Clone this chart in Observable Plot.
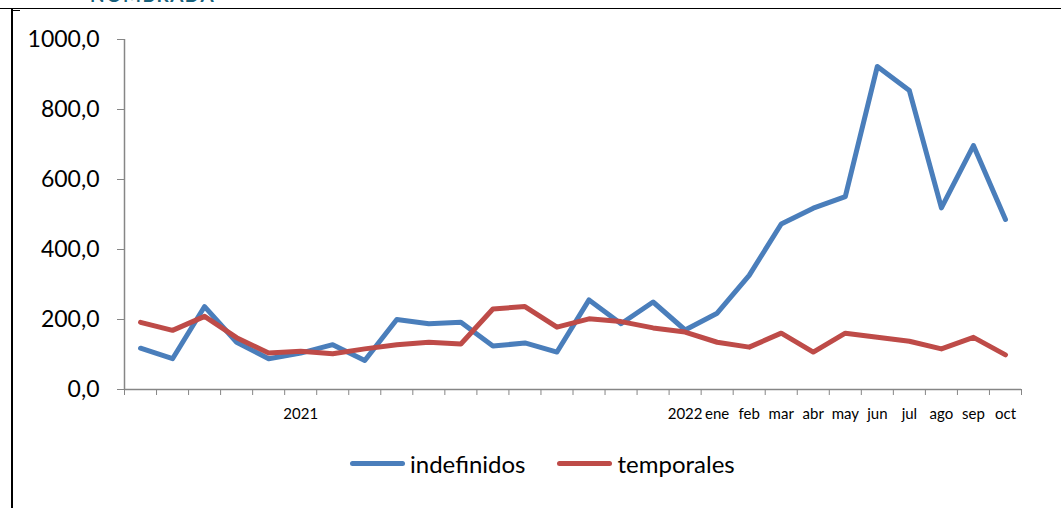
<!DOCTYPE html>
<html>
<head>
<meta charset="utf-8">
<script src="https://cdn.jsdelivr.net/npm/d3@7"></script>
<script src="https://cdn.jsdelivr.net/npm/@observablehq/plot@0.6"></script>
<style>
  html, body { margin: 0; padding: 0; background: #fff; }
  #wrap { position: relative; width: 1061px; height: 508px; overflow: hidden; font-family: Lato, "Open Sans", sans-serif; }
  #topline { position: absolute; left: 0; top: 8px; width: 1061px; height: 0; border-top: 1.5px solid #000; }
  #leftline { position: absolute; left: 11px; top: 8px; width: 0; height: 500px; border-left: 2.5px solid #000; }
  #cap { position: absolute; left: 11px; top: 10px; width: 9px; height: 0; border-top: 1.5px solid #000; }
  #title { position: absolute; left: 90px; top: -17px; font-size: 19px; font-weight: 700; color: #17607a; letter-spacing: 1.5px; white-space: nowrap; }
  #chart { position: absolute; left: 0; top: 0; }
  #legend { position: absolute; left: 350px; top: 449px; display: flex; align-items: center; font-size: 24px; color: #000; }
  .item { display: flex; align-items: center; }
  .sw { width: 55px; height: 5px; border-radius: 3px; margin-right: 5px; }
</style>
</head>
<body>
<div id="wrap">
  <div id="title">NOMBRADA</div>
  <div id="topline"></div>
  <div id="leftline"></div>
  <div id="cap"></div>
  <div id="chart"></div>
  <div id="legend"></div>
</div>
<script>
// x category labels (28 periods)
const xLabels = ["", "", "", "", "", "2021", "", "", "", "", "", "", "", "", "", "", "", "2022",
  "ene", "feb", "mar", "abr", "may", "jun", "jul", "ago", "sep", "oct"];
// series values
const indefinidos = [118, 88, 237, 135, 88, 104, 128, 83, 200, 188, 192, 124, 133, 107, 256, 188, 250, 170,
  218, 326, 473, 518, 551, 923, 854, 519, 697, 486];
const temporales = [192, 169, 209, 148, 104, 109, 102, 116, 128, 135, 130, 230, 237, 178, 202, 194, 176, 164,
  135, 121, 161, 107, 161, 149, 138, 116, 149, 99];
const seriesNames = ["indefinidos", "temporales"];
const seriesColors = ["#4a7ebb", "#be4b48"];
const yTicks = [0, 200, 400, 600, 800, 1000];

const n = xLabels.length;
const idx = d3.range(n);
const boundaries = d3.range(n + 1).map(i => i - 0.5);
const rows = [];
[indefinidos, temporales].forEach((vals, s) => {
  vals.forEach((v, i) => rows.push({ i, v, s: seriesNames[s] }));
});
const fmt = d => d3.format(".1f")(d).replace(".", ",");
const axisGray = "#868686";

const chart = Plot.plot({
  width: 1061,
  height: 430,
  marginLeft: 124,
  marginRight: 40,
  marginTop: 39,
  marginBottom: 41,
  style: { fontFamily: "Lato, 'Open Sans', sans-serif", color: "#000", background: "transparent" },
  x: { type: "linear", domain: [-0.5, n - 0.5] },
  y: { domain: [0, 1000] },
  color: { domain: seriesNames, range: seriesColors },
  marks: [
    Plot.axisY({ ticks: yTicks, tickSize: 7, tickPadding: 18, tickFormat: fmt, fontSize: 23, stroke: axisGray, fill: "#000", label: null }),
    Plot.axisX({ ticks: boundaries, tickSize: 6, tickFormat: () => "", stroke: axisGray, label: null }),
    Plot.axisX({ ticks: idx, tickSize: 0, tickPadding: 19, tickFormat: i => xLabels[i], fontSize: 15, fill: "#000", label: null }),
    Plot.ruleX([-0.5], { stroke: axisGray, strokeWidth: 1.5 }),
    Plot.ruleY([0], { stroke: axisGray, strokeWidth: 1.5 }),
    Plot.line(rows, { x: "i", y: "v", z: "s", stroke: "s", strokeWidth: 5, strokeLinejoin: "round", strokeLinecap: "round" })
  ]
});
document.getElementById("chart").appendChild(chart);

const legend = document.getElementById("legend");
seriesNames.forEach((name, k) => {
  const it = document.createElement("div");
  it.className = "item";
  if (k > 0) it.style.marginLeft = "32px";
  const sw = document.createElement("div");
  sw.className = "sw";
  sw.style.background = seriesColors[k];
  const t = document.createElement("span");
  t.textContent = name;
  it.appendChild(sw);
  it.appendChild(t);
  legend.appendChild(it);
});
</script>
</body>
</html>
